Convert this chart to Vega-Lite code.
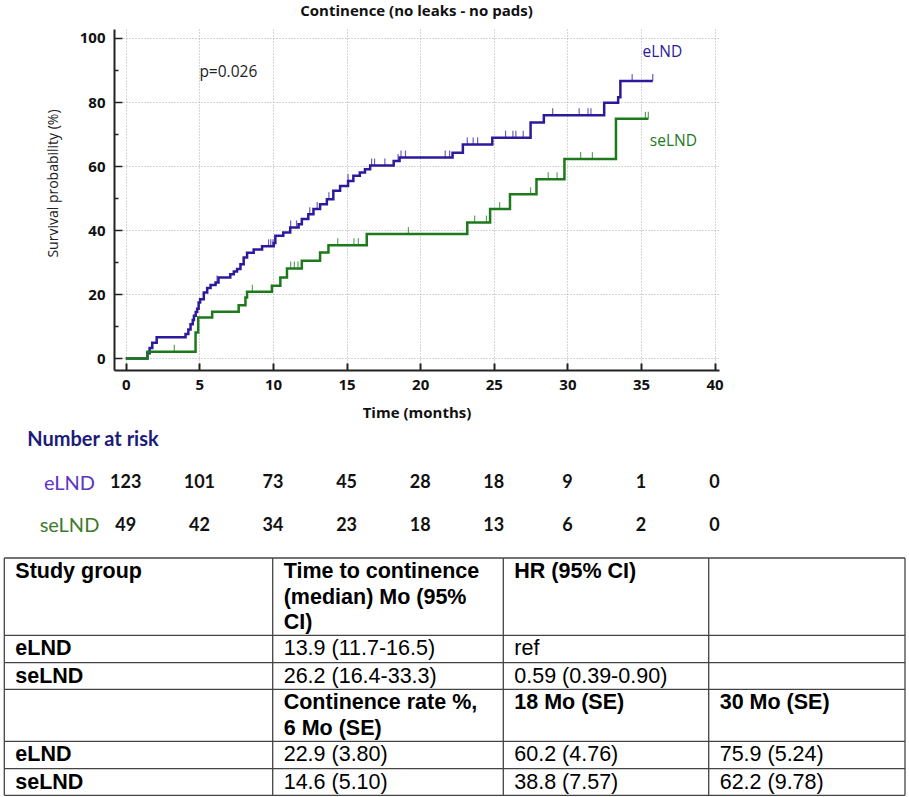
{
  "$schema": "https://vega.github.io/schema/vega-lite/v6.json",
  "padding": {"left": 3, "top": 4, "right": 0, "bottom": 0},
  "background": "white",
  "config": {"view": {"stroke": null}, "font": "Open Sans"},
  "spacing": 10,
  "resolve": {"scale": {"x": "independent", "y": "independent", "color": "independent"}},
  "datasets": {
    "curves": [
      {"g": "eLND", "t": 0, "s": 0}, {"g": "eLND", "t": 1.47, "s": 1.6}, {"g": "eLND", "t": 1.62, "s": 3.3},
      {"g": "eLND", "t": 1.8, "s": 4.9}, {"g": "eLND", "t": 2.1, "s": 6.6}, {"g": "eLND", "t": 4.06, "s": 7.6},
      {"g": "eLND", "t": 4.25, "s": 9.0}, {"g": "eLND", "t": 4.4, "s": 10.7}, {"g": "eLND", "t": 4.55, "s": 12.0},
      {"g": "eLND", "t": 4.63, "s": 13.3}, {"g": "eLND", "t": 4.75, "s": 14.5}, {"g": "eLND", "t": 4.85, "s": 15.5},
      {"g": "eLND", "t": 4.95, "s": 17.5}, {"g": "eLND", "t": 5.05, "s": 18.5}, {"g": "eLND", "t": 5.3, "s": 20.6},
      {"g": "eLND", "t": 5.53, "s": 22.0}, {"g": "eLND", "t": 5.76, "s": 22.9}, {"g": "eLND", "t": 6.1, "s": 23.7},
      {"g": "eLND", "t": 6.3, "s": 25.3}, {"g": "eLND", "t": 7.1, "s": 26.3}, {"g": "eLND", "t": 7.34, "s": 27.1},
      {"g": "eLND", "t": 7.56, "s": 27.9}, {"g": "eLND", "t": 7.79, "s": 29.4}, {"g": "eLND", "t": 8.01, "s": 31.5},
      {"g": "eLND", "t": 8.24, "s": 33.0}, {"g": "eLND", "t": 8.69, "s": 34.0}, {"g": "eLND", "t": 9.26, "s": 35.0},
      {"g": "eLND", "t": 10.05, "s": 36.0}, {"g": "eLND", "t": 10.16, "s": 38.3}, {"g": "eLND", "t": 10.7, "s": 39.3},
      {"g": "eLND", "t": 11.17, "s": 40.9}, {"g": "eLND", "t": 11.74, "s": 41.9}, {"g": "eLND", "t": 11.96, "s": 43.5},
      {"g": "eLND", "t": 12.4, "s": 45.0}, {"g": "eLND", "t": 12.75, "s": 46.6}, {"g": "eLND", "t": 13.2, "s": 48.1},
      {"g": "eLND", "t": 13.66, "s": 49.7}, {"g": "eLND", "t": 14.1, "s": 52.3}, {"g": "eLND", "t": 14.56, "s": 53.8},
      {"g": "eLND", "t": 15.1, "s": 55.4}, {"g": "eLND", "t": 15.46, "s": 57.0}, {"g": "eLND", "t": 15.9, "s": 58.0},
      {"g": "eLND", "t": 16.25, "s": 59.0}, {"g": "eLND", "t": 16.6, "s": 60.2}, {"g": "eLND", "t": 18.2, "s": 61.6},
      {"g": "eLND", "t": 18.6, "s": 62.7}, {"g": "eLND", "t": 22.2, "s": 64.2}, {"g": "eLND", "t": 22.9, "s": 66.8},
      {"g": "eLND", "t": 24.9, "s": 68.9}, {"g": "eLND", "t": 27.5, "s": 73.6}, {"g": "eLND", "t": 28.4, "s": 75.9},
      {"g": "eLND", "t": 32.5, "s": 79.8}, {"g": "eLND", "t": 33.45, "s": 81.5}, {"g": "eLND", "t": 33.6, "s": 86.6},
      {"g": "eLND", "t": 35.8, "s": 86.6},
      {"g": "seLND", "t": 0, "s": 0}, {"g": "seLND", "t": 1.47, "s": 2.1}, {"g": "seLND", "t": 4.74, "s": 8.1},
      {"g": "seLND", "t": 4.92, "s": 12.8}, {"g": "seLND", "t": 5.87, "s": 14.6}, {"g": "seLND", "t": 7.67, "s": 16.6},
      {"g": "seLND", "t": 8.13, "s": 19.0}, {"g": "seLND", "t": 8.24, "s": 20.8}, {"g": "seLND", "t": 9.93, "s": 22.7},
      {"g": "seLND", "t": 10.5, "s": 25.3}, {"g": "seLND", "t": 10.95, "s": 28.1}, {"g": "seLND", "t": 11.96, "s": 30.5},
      {"g": "seLND", "t": 13.2, "s": 33.1}, {"g": "seLND", "t": 13.77, "s": 35.3}, {"g": "seLND", "t": 16.37, "s": 38.8},
      {"g": "seLND", "t": 23.2, "s": 42.4}, {"g": "seLND", "t": 24.75, "s": 46.6}, {"g": "seLND", "t": 26.1, "s": 51.2},
      {"g": "seLND", "t": 27.9, "s": 55.9}, {"g": "seLND", "t": 29.8, "s": 62.2}, {"g": "seLND", "t": 33.3, "s": 74.8},
      {"g": "seLND", "t": 35.5, "s": 74.8}
    ],
    "censored": [
      {"g": "eLND", "t": 6.2, "s": 23.7}, {"g": "eLND", "t": 9.7, "s": 35.0}, {"g": "eLND", "t": 9.85, "s": 35.0},
      {"g": "eLND", "t": 10.0, "s": 35.0}, {"g": "eLND", "t": 11.2, "s": 40.9}, {"g": "eLND", "t": 11.6, "s": 40.9},
      {"g": "eLND", "t": 12.5, "s": 45.0}, {"g": "eLND", "t": 13.0, "s": 46.6}, {"g": "eLND", "t": 13.8, "s": 49.7},
      {"g": "eLND", "t": 15.1, "s": 55.4}, {"g": "eLND", "t": 16.7, "s": 60.2}, {"g": "eLND", "t": 16.9, "s": 60.2},
      {"g": "eLND", "t": 17.6, "s": 60.2}, {"g": "eLND", "t": 18.5, "s": 61.6}, {"g": "eLND", "t": 18.7, "s": 62.7},
      {"g": "eLND", "t": 19.0, "s": 62.7}, {"g": "eLND", "t": 21.7, "s": 62.7}, {"g": "eLND", "t": 22.0, "s": 62.7},
      {"g": "eLND", "t": 23.2, "s": 66.8}, {"g": "eLND", "t": 23.6, "s": 66.8}, {"g": "eLND", "t": 23.9, "s": 66.8},
      {"g": "eLND", "t": 25.8, "s": 68.9}, {"g": "eLND", "t": 26.3, "s": 68.9}, {"g": "eLND", "t": 26.5, "s": 68.9},
      {"g": "eLND", "t": 27.0, "s": 68.9}, {"g": "eLND", "t": 29.0, "s": 75.9}, {"g": "eLND", "t": 30.8, "s": 75.9},
      {"g": "eLND", "t": 31.4, "s": 75.9}, {"g": "eLND", "t": 31.6, "s": 75.9}, {"g": "eLND", "t": 34.4, "s": 86.6},
      {"g": "eLND", "t": 35.8, "s": 86.6},
      {"g": "seLND", "t": 3.3, "s": 2.1}, {"g": "seLND", "t": 8.6, "s": 20.8}, {"g": "seLND", "t": 9.9, "s": 20.8},
      {"g": "seLND", "t": 11.2, "s": 28.1}, {"g": "seLND", "t": 11.45, "s": 28.1}, {"g": "seLND", "t": 11.7, "s": 28.1},
      {"g": "seLND", "t": 14.4, "s": 35.3}, {"g": "seLND", "t": 15.5, "s": 35.3}, {"g": "seLND", "t": 15.8, "s": 35.3},
      {"g": "seLND", "t": 19.2, "s": 38.8}, {"g": "seLND", "t": 23.7, "s": 42.4}, {"g": "seLND", "t": 24.5, "s": 42.4},
      {"g": "seLND", "t": 25.4, "s": 46.6}, {"g": "seLND", "t": 27.5, "s": 51.2}, {"g": "seLND", "t": 28.7, "s": 55.9},
      {"g": "seLND", "t": 29.3, "s": 55.9}, {"g": "seLND", "t": 30.9, "s": 62.2}, {"g": "seLND", "t": 31.7, "s": 62.2},
      {"g": "seLND", "t": 35.3, "s": 74.8}, {"g": "seLND", "t": 35.5, "s": 74.8}
    ],
    "notes": [
      {"g": "p", "t": 5.0, "s": 89.5, "txt": "p=0.026"},
      {"g": "eLND", "t": 35.1, "s": 95.7, "txt": "eLND"},
      {"g": "seLND", "t": 35.6, "s": 67.7, "txt": "seLND"}
    ],
    "atrisk": [
      {"g": "eLND", "t": 0, "n": 123}, {"g": "eLND", "t": 5, "n": 101}, {"g": "eLND", "t": 10, "n": 73},
      {"g": "eLND", "t": 15, "n": 45}, {"g": "eLND", "t": 20, "n": 28}, {"g": "eLND", "t": 25, "n": 18},
      {"g": "eLND", "t": 30, "n": 9}, {"g": "eLND", "t": 35, "n": 1}, {"g": "eLND", "t": 40, "n": 0},
      {"g": "seLND", "t": 0, "n": 49}, {"g": "seLND", "t": 5, "n": 42}, {"g": "seLND", "t": 10, "n": 34},
      {"g": "seLND", "t": 15, "n": 23}, {"g": "seLND", "t": 20, "n": 18}, {"g": "seLND", "t": 25, "n": 13},
      {"g": "seLND", "t": 30, "n": 6}, {"g": "seLND", "t": 35, "n": 2}, {"g": "seLND", "t": 40, "n": 0}
    ],
    "cells": [
      {"r": 0, "c": 0, "txt": "Study group"},
      {"r": 0, "c": 1, "txt": ["Time to continence", "(median) Mo (95%", "CI)"]},
      {"r": 0, "c": 2, "txt": "HR (95% CI)"},
      {"r": 1, "c": 0, "txt": "eLND"},
      {"r": 1, "c": 1, "txt": "13.9 (11.7-16.5)"},
      {"r": 1, "c": 2, "txt": "ref"},
      {"r": 2, "c": 0, "txt": "seLND"},
      {"r": 2, "c": 1, "txt": "26.2 (16.4-33.3)"},
      {"r": 2, "c": 2, "txt": "0.59 (0.39-0.90)"},
      {"r": 3, "c": 1, "txt": ["Continence rate %,", "6 Mo (SE)"]},
      {"r": 3, "c": 2, "txt": "18 Mo (SE)"},
      {"r": 3, "c": 3, "txt": "30 Mo (SE)"},
      {"r": 4, "c": 0, "txt": "eLND"},
      {"r": 4, "c": 1, "txt": "22.9 (3.80)"},
      {"r": 4, "c": 2, "txt": "60.2 (4.76)"},
      {"r": 4, "c": 3, "txt": "75.9 (5.24)"},
      {"r": 5, "c": 0, "txt": "seLND"},
      {"r": 5, "c": 1, "txt": "14.6 (5.10)"},
      {"r": 5, "c": 2, "txt": "38.8 (7.57)"},
      {"r": 5, "c": 3, "txt": "62.2 (9.78)"}
    ],
    "rowlines": [{"r": 0}, {"r": 1}, {"r": 2}, {"r": 3}, {"r": 4}, {"r": 5}, {"r": 6}],
    "collines": [{"c": 0}, {"c": 1}, {"c": 2}, {"c": 3}, {"c": 4}]
  },
  "vconcat": [
    {
      "title": {"text": "Continence (no leaks - no pads)", "font": "Open Sans", "fontSize": 15, "fontWeight": "bold", "color": "#111", "offset": 10},
      "width": 605,
      "height": 341,
      "encoding": {
        "x": {"field": "t", "type": "quantitative",
          "scale": {"domain": [-0.8, 40.3], "nice": false, "zero": false},
          "axis": {"values": [0, 5, 10, 15, 20, 25, 30, 35, 40], "title": "Time (months)",
            "grid": true, "gridDash": [1, 2], "gridColor": "#aaaaaa", "gridWidth": 1,
            "domainColor": "#222", "domainWidth": 2, "tickColor": "#222", "tickWidth": 2, "tickSize": -7,
            "labelFont": "Open Sans", "labelFontSize": 15, "labelFontWeight": "bold", "labelColor": "#111", "labelPadding": 14,
            "titleFont": "Open Sans", "titleFontSize": 15, "titleFontWeight": "bold", "titleColor": "#111", "titlePadding": 13}},
        "y": {"field": "s", "type": "quantitative",
          "scale": {"domain": [-3.6, 102.8], "nice": false, "zero": false},
          "axis": {"values": [0, 10, 20, 30, 40, 50, 60, 70, 80, 90, 100], "title": "Survival probability (%)",
            "labelExpr": "datum.value % 20 === 0 ? datum.label : ''",
            "grid": true, "gridDash": [1, 2], "gridColor": "#aaaaaa", "gridWidth": 1,
            "gridOpacity": {"expr": "datum.value % 20 === 0 ? 1 : 0"},
            "domainColor": "#222", "domainWidth": 2, "tickColor": "#222", "tickWidth": 1.5,
            "tickSize": {"expr": "datum.value % 20 === 0 ? -8 : -4"},
            "labelFont": "Open Sans", "labelFontSize": 15, "labelFontWeight": "bold", "labelColor": "#111", "labelPadding": 17,
            "titleFont": "Open Sans", "titleFontSize": 14, "titleFontWeight": "normal", "titleColor": "#222", "titlePadding": 19, "titleY": 154}},
        "color": {"field": "g", "type": "nominal", "legend": null,
          "scale": {"domain": ["eLND", "seLND", "p"], "range": ["#2c1a9c", "#1c7a1c", "#222222"]}}
      },
      "layer": [
        {"data": {"name": "curves"}, "mark": {"type": "line", "interpolate": "step-after", "strokeWidth": 2.5}},
        {"data": {"name": "censored"}, "mark": {"type": "tick", "orient": "vertical", "size": 7, "thickness": 1.2, "yOffset": -3.5}},
        {"data": {"name": "notes"}, "mark": {"type": "text", "align": "left", "baseline": "middle", "font": "Open Sans", "fontSize": 15.5},
          "encoding": {"text": {"field": "txt"}}}
      ]
    },
    {
      "title": {"text": "Number at risk", "anchor": "start", "font": "Lato", "fontSize": 20, "fontWeight": "bold", "color": "#1c1c7a", "offset": 12, "dx": -12},
      "width": 605,
      "height": 85,
      "data": {"name": "atrisk"},
      "mark": {"type": "text", "font": "Lato", "fontSize": 18, "fontWeight": "bold", "color": "#111"},
      "encoding": {
        "x": {"field": "t", "type": "quantitative", "scale": {"domain": [-0.8, 40.3], "nice": false, "zero": false}, "axis": null},
        "y": {"field": "g", "type": "nominal", "scale": {"domain": ["eLND", "seLND"]},
          "axis": {"title": null, "domain": false, "ticks": false, "labelFont": "Lato", "labelFontSize": 20, "labelAlign": "center", "labelPadding": 45,
            "labelColor": {"expr": "datum.value === 'eLND' ? '#5b35c4' : '#3d7a2d'"}}},
        "text": {"field": "n", "type": "quantitative"}
      }
    },
    {
      "width": 791,
      "height": 237,
      "layer": [
        {"data": {"name": "rowlines"}, "mark": {"type": "rule", "color": "#444", "strokeWidth": 1.3},
          "encoding": {
            "y": {"field": "r", "type": "quantitative", "scale": {"domain": [0, 1, 2, 3, 4, 5, 6], "range": [0, 77.3, 104.7, 131.3, 183.3, 210.7, 237.3], "nice": false, "zero": false}, "axis": null},
            "x": {"datum": 0, "type": "quantitative", "scale": {"domain": [0, 1, 2, 3, 4], "range": [-109.7, 158.7, 389.3, 594.7, 791], "nice": false, "zero": false}, "axis": null},
            "x2": {"datum": 4}}},
        {"data": {"name": "collines"}, "mark": {"type": "rule", "color": "#444", "strokeWidth": 1.3},
          "encoding": {
            "x": {"field": "c", "type": "quantitative"},
            "y": {"datum": 0, "type": "quantitative"},
            "y2": {"datum": 6}}},
        {"data": {"name": "cells"}, "transform": [{"filter": "datum.c > 0 && datum.r != 0 && datum.r != 3"}],
          "mark": {"type": "text", "align": "left", "baseline": "middle", "dx": 11, "dy": 14, "font": "Liberation Sans", "fontSize": 21.5, "lineHeight": 25.5, "color": "#000"},
          "encoding": {"x": {"field": "c", "type": "quantitative"}, "y": {"field": "r", "type": "quantitative"}, "text": {"field": "txt"}}},
        {"data": {"name": "cells"}, "transform": [{"filter": "datum.c == 0 || datum.r == 0 || datum.r == 3"}],
          "mark": {"type": "text", "align": "left", "baseline": "middle", "dx": 11, "dy": 14, "font": "Liberation Sans", "fontSize": 21.5, "fontWeight": "bold", "lineHeight": 25.5, "color": "#000"},
          "encoding": {"x": {"field": "c", "type": "quantitative"}, "y": {"field": "r", "type": "quantitative"}, "text": {"field": "txt"}}}
      ]
    }
  ]
}
